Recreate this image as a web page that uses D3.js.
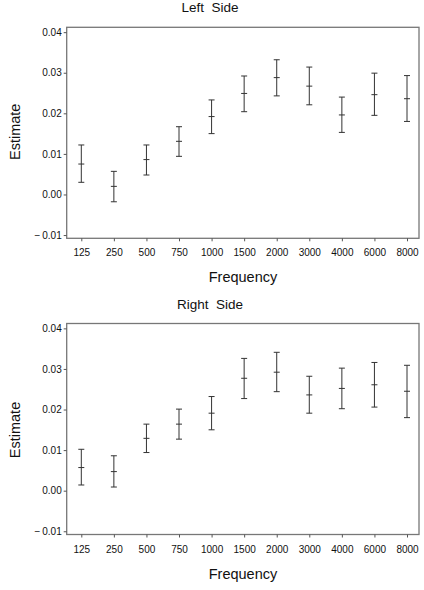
<!DOCTYPE html>
<html><head><meta charset="utf-8">
<script src="https://cdn.jsdelivr.net/npm/d3@7"></script>
<style>body{margin:0;background:#fff}svg{display:block}text{white-space:pre}</style>
</head><body><svg id="c" width="424" height="590"></svg>
<script>
const frequencies = ["125","250","500","750","1000","1500","2000","3000","4000","6000","8000"];
const yTicks = [-0.01, 0, 0.01, 0.02, 0.03, 0.04];
const leftEstimate = [0.0075,0.0020,0.0086,0.0131,0.0192,0.0249,0.0288,0.0267,0.0196,0.0246,0.0236];
const leftLower    = [0.0030,-0.0018,0.0048,0.0094,0.0150,0.0204,0.0243,0.0221,0.0153,0.0195,0.0180];
const leftUpper    = [0.0122,0.0057,0.0122,0.0167,0.0233,0.0292,0.0332,0.0314,0.0240,0.0299,0.0293];
const rightEstimate = [0.0057,0.0047,0.0129,0.0164,0.0191,0.0277,0.0292,0.0236,0.0252,0.0261,0.0245];
const rightLower    = [0.0014,0.0009,0.0094,0.0127,0.0150,0.0227,0.0244,0.0191,0.0202,0.0206,0.0180];
const rightUpper    = [0.0102,0.0086,0.0164,0.0201,0.0232,0.0326,0.0341,0.0282,0.0302,0.0316,0.0309];

const svg = d3.select("#c");
const font = "'Liberation Sans', Arial, Helvetica, sans-serif";
const L = 66.7, R = 419, H = 211;

function panel(title, est, lo, hi, top, labelShift) {
  const g = svg.append("g");
  const x = d3.scalePoint().domain(frequencies).range([81.3, 407]);
  const y = d3.scaleLinear().domain([-0.0108, 0.0412]).range([top + H, top]);
  g.append("text").attr("x", 210).attr("y", top - 15).attr("text-anchor","middle")
    .attr("font-family", font).attr("font-size", 13.5).attr("fill","#111").text(title);
  g.append("rect").attr("x", L).attr("y", top).attr("width", R - L).attr("height", H)
    .attr("fill","none").attr("stroke","#777").attr("stroke-width",1.3);
  const ya = g.append("g").attr("transform", `translate(${L},0)`)
    .call(d3.axisLeft(y).tickValues(yTicks).tickSize(3).tickPadding(2)
      .tickFormat(d => (d < 0 ? "\u2212\u2009" : "") + d3.format(".2f")(Math.abs(d))));
  ya.select(".domain").remove();
  ya.selectAll("line").attr("stroke","#555");
  ya.selectAll("text").attr("font-family", font).attr("font-size", 10).attr("fill","#111");
  const xa = g.append("g").attr("transform", `translate(0,${top + H})`)
    .call(d3.axisBottom(x).tickSize(3).tickPadding(8));
  xa.select(".domain").remove();
  xa.selectAll("line").attr("stroke","#555");
  xa.selectAll("text").attr("font-family", font).attr("font-size", 10).attr("fill","#111");
  g.append("text").attr("x", 243).attr("y", top + H + 44).attr("text-anchor","middle")
    .attr("font-family", font).attr("font-size", 14.5).attr("fill","#111").text("Frequency");
  g.append("text").attr("transform", `translate(20,${top + H/2 + labelShift}) rotate(-90)`).attr("text-anchor","middle")
    .attr("font-family", font).attr("font-size", 14.5).attr("fill","#111").text("Estimate");
  const data = frequencies.map((f, i) => ({f, e: est[i], l: lo[i], h: hi[i]}));
  const eb = g.append("g").attr("stroke","#333").attr("stroke-width",1).attr("fill","none");
  const bars = eb.selectAll("g").data(data).join("g");
  bars.append("line").attr("x1", d => x(d.f)).attr("x2", d => x(d.f)).attr("y1", d => y(d.l)).attr("y2", d => y(d.h));
  ["h","l","e"].forEach(k => {
    bars.append("line").attr("x1", d => x(d.f) - 3).attr("x2", d => x(d.f) + 3)
      .attr("y1", d => y(d[k])).attr("y2", d => y(d[k]));
  });
}
panel("Left  Side", leftEstimate, leftLower, leftUpper, 27.3, -1);
panel("Right  Side", rightEstimate, rightLower, rightUpper, 323.5, 1);
</script></body></html>
